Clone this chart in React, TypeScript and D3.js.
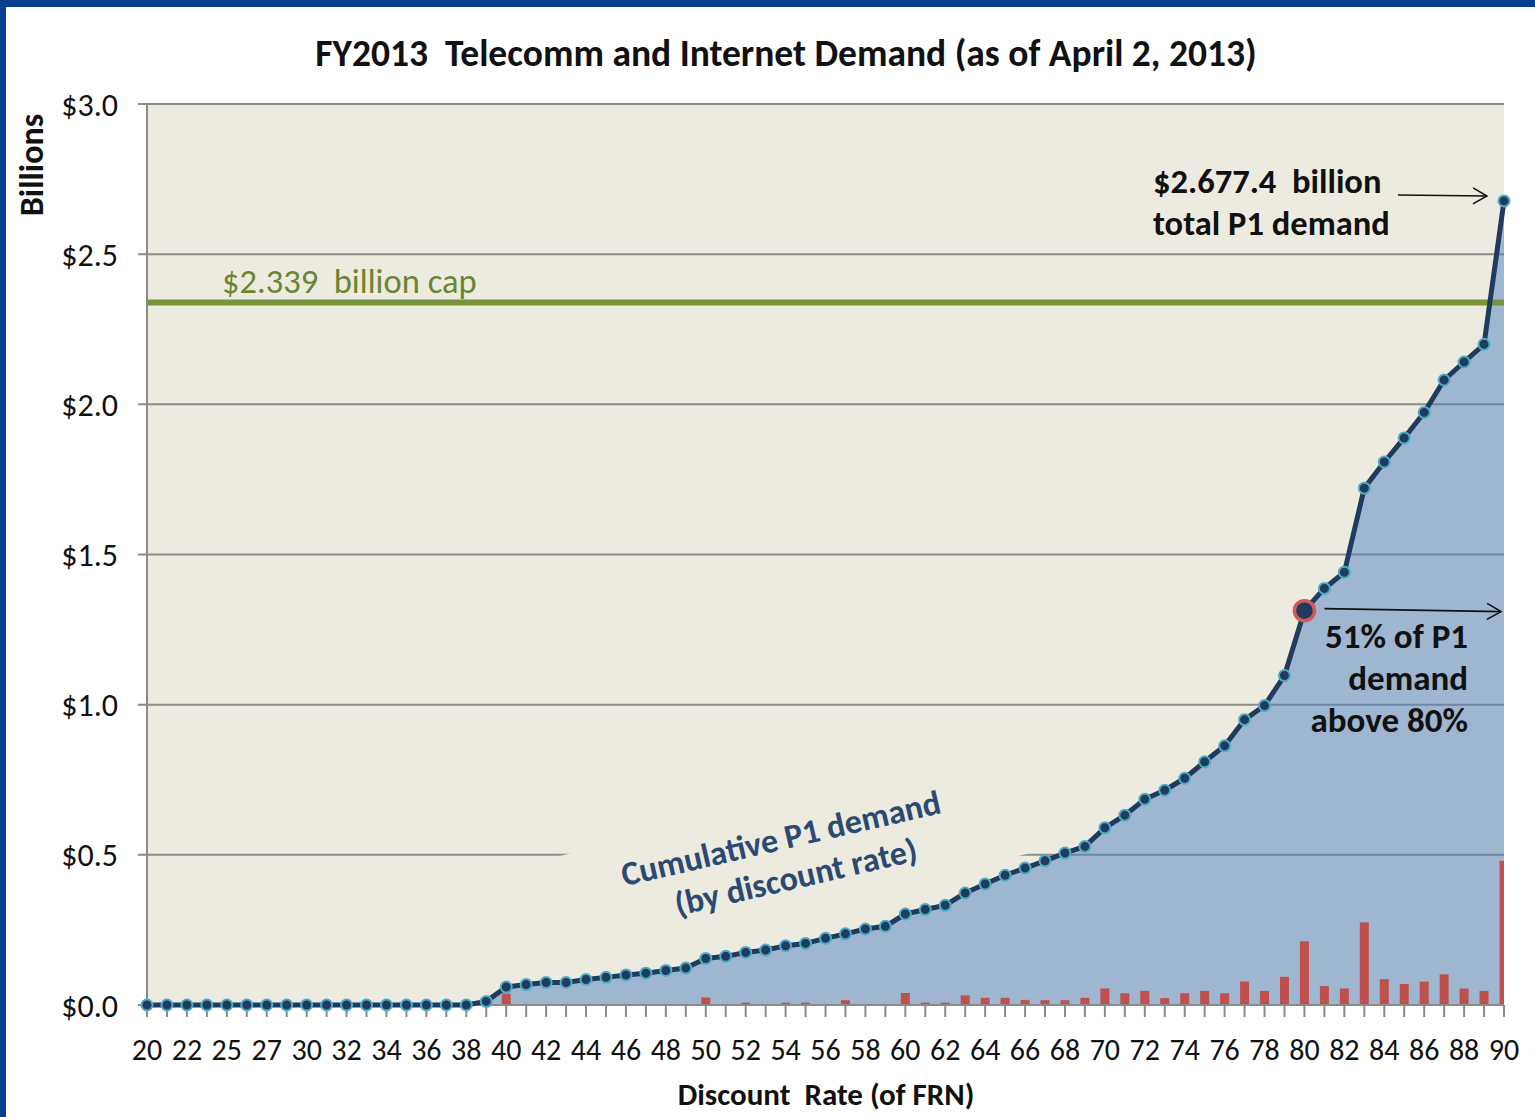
import React from "react";
import * as d3 from "d3";

// ---------- DATA ----------
const categories: number[] = [
  20, 21, 22, 23, 25, 26, 27, 28, 30, 31, 32, 33, 34, 35, 36, 37, 38, 39,
  40, 41, 42, 43, 44, 45, 46, 47, 48, 49, 50, 51, 52, 53, 54, 55, 56, 57, 58, 59,
  60, 61, 62, 63, 64, 65, 66, 67, 68, 69, 70, 71, 72, 73, 74, 75, 76, 77, 78, 79,
  80, 81, 82, 83, 84, 85, 86, 87, 88, 89, 90,
];

// cumulative P1 demand, $ billions
const cumulative: number[] = [
  0, 0, 0, 0, 0, 0, 0, 0, 0, 0, 0, 0, 0, 0, 0, 0, 0, 0.012,
  0.06, 0.068, 0.075, 0.075, 0.085, 0.092, 0.1, 0.106, 0.115, 0.123,
  0.155, 0.162, 0.175, 0.183, 0.197, 0.205, 0.222, 0.237, 0.253, 0.262,
  0.303, 0.318, 0.332, 0.373, 0.403, 0.432, 0.456, 0.48, 0.506, 0.528,
  0.59, 0.632, 0.685, 0.715, 0.755, 0.81, 0.863, 0.95, 0.997, 1.097,
  1.313, 1.387, 1.441, 1.721, 1.808, 1.888, 1.973, 2.081, 2.141, 2.2,
  2.6774,
];

// demand at each discount rate, $ billions
const perRate: number[] = [
  0, 0, 0, 0, 0, 0, 0, 0, 0, 0, 0, 0, 0, 0, 0, 0, 0, 0,
  0.038, 0, 0, 0, 0, 0, 0, 0, 0, 0,
  0.025, 0, 0.008, 0, 0.008, 0.008, 0, 0.016, 0, 0,
  0.04, 0.008, 0.008, 0.032, 0.024, 0.024, 0.017, 0.016, 0.016, 0.024,
  0.055, 0.039, 0.047, 0.023, 0.039, 0.047, 0.039, 0.078, 0.047, 0.094,
  0.212, 0.063, 0.055, 0.275, 0.086, 0.07, 0.078, 0.102, 0.055, 0.047,
  0.48,
];

const yTicks: number[] = [0, 0.5, 1.0, 1.5, 2.0, 2.5, 3.0];
const capValue = 2.339;
const highlightRate = 80;

const title = "FY2013  Telecomm and Internet Demand (as of April 2, 2013)";
const xTitle = "Discount  Rate (of FRN)";
const yTitle = "Billions";
const capLabel = "$2.339  billion cap";
const totalLabel = ["$2.677.4  billion", "total P1 demand"];
const shareLabel = ["51% of P1", "demand", "above 80%"];
const curveLabel = ["Cumulative P1 demand", "(by discount rate)"];

// ---------- LAYOUT ----------
const W = 1535;
const H = 1117;
const L = 147;
const R = 1504;
const T = 104;
const B = 1005;
const FONT = "Carlito, Calibri, Lato, 'Open Sans', sans-serif";

const keepSpaces = (s: string) => s.replace(/  /g, " \u00A0");

export default function App() {
  const x = d3.scalePoint<number>().domain(categories).range([L, R]);
  const y = d3.scaleLinear().domain([0, 3]).range([B, T]);
  const step = x.step();
  const barW = step * 0.45;

  const pts = categories.map((c, i) => ({ c, v: cumulative[i] }));
  const line = d3
    .line<{ c: number; v: number }>()
    .x((d) => x(d.c)!)
    .y((d) => y(d.v));
  const area = d3
    .area<{ c: number; v: number }>()
    .x((d) => x(d.c)!)
    .y0(y(0))
    .y1((d) => y(d.v));

  const hiIdx = categories.indexOf(highlightRate);
  const lastIdx = categories.length - 1;

  return (
    <svg
      width={W}
      height={H}
      style={{ position: "absolute", left: 0, top: 0, background: "#fff" }}
      fontFamily={FONT}
    >
      <defs>
        <clipPath id="plotClip">
          <rect x={L} y={T} width={R - L} height={B - T} />
        </clipPath>
        <marker
          id="arrow"
          viewBox="0 0 16 18"
          refX={15}
          refY={9}
          markerWidth={16}
          markerHeight={18}
          markerUnits="userSpaceOnUse"
          orient="auto"
        >
          <path d="M1,1 L15,9 L1,17" fill="none" stroke="#111" strokeWidth={1.6} />
        </marker>
      </defs>

      {/* frame */}
      <rect x={0} y={0} width={W} height={H} fill="#fff" />
      <rect x={0} y={0} width={W} height={7} fill="#0A3F8F" />
      <rect x={0} y={0} width={6} height={H} fill="#0A3F8F" />

      {/* plot background */}
      <rect x={L} y={T} width={R - L} height={B - T} fill="#EDEBE0" />

      {/* gridlines */}
      {yTicks.map((t) =>
        t === 0 ? null : (
          <line
            key={t}
            x1={L - 9}
            x2={R}
            y1={y(t)}
            y2={y(t)}
            stroke="#8A8A8A"
            strokeWidth={2}
          />
        )
      )}

      {/* text box background for rotated label */}
      <g transform={`translate(791,856) rotate(-13)`}>
        <rect x={-240} y={-52} width={480} height={103} fill="#EDEBE0" />
      </g>

      {/* area */}
      <path d={area(pts)!} fill="#4F81BD" fillOpacity={0.5} />

      {/* per-rate bars */}
      <g clipPath="url(#plotClip)">
        {categories.map((c, i) =>
          perRate[i] > 0 ? (
            <rect
              key={c}
              x={x(c)! - barW / 2}
              y={y(perRate[i])}
              width={barW}
              height={y(0) - y(perRate[i])}
              fill="#C0504D"
            />
          ) : null
        )}
      </g>

      {/* cap line */}
      <line x1={L} x2={R} y1={y(capValue)} y2={y(capValue)} stroke="#77933C" strokeWidth={6} />

      {/* axes */}
      <line x1={L} x2={L} y1={T} y2={B} stroke="#8A8A8A" strokeWidth={2} />
      <line x1={L - 9} x2={R} y1={B} y2={B} stroke="#8A8A8A" strokeWidth={2} />
      {categories.map((c) => (
        <line key={c} x1={x(c)} x2={x(c)} y1={B} y2={B + 12} stroke="#8A8A8A" strokeWidth={2} />
      ))}

      {/* cumulative line */}
      <path d={line(pts)!} fill="none" stroke="#1F3B5E" strokeWidth={5} strokeLinejoin="round" />
      {pts.map((d, i) =>
        i === hiIdx ? null : (
          <circle
            key={d.c}
            cx={x(d.c)}
            cy={y(d.v)}
            r={5.5}
            fill="#1F3B5E"
            stroke="#4BACC6"
            strokeWidth={2}
          />
        )
      )}
      <circle
        cx={x(categories[hiIdx])}
        cy={y(cumulative[hiIdx])}
        r={10}
        fill="#1F3B5E"
        stroke="#D05A57"
        strokeWidth={3.5}
      />

      {/* y tick labels */}
      {yTicks.map((t) => (
        <text
          key={t}
          x={118}
          y={y(t)}
          dy="0.36em"
          textAnchor="end"
          fontSize={32}
          fill="#111"
        >
          {`$${t.toFixed(1)}`}
        </text>
      ))}

      {/* x tick labels */}
      {categories.map((c, i) =>
        i % 2 === 0 ? (
          <text key={c} x={x(c)} y={1060} textAnchor="middle" fontSize={30} fill="#111">
            {c}
          </text>
        ) : null
      )}

      {/* titles */}
      <text x={786} y={66} textAnchor="middle" fontSize={37.5} fontWeight="bold" fill="#111">
        {keepSpaces(title)}
      </text>
      <text x={826} y={1105} textAnchor="middle" fontSize={31} fontWeight="bold" fill="#111">
        {keepSpaces(xTitle)}
      </text>
      <text
        transform={`translate(43,165) rotate(-90)`}
        textAnchor="middle"
        fontSize={34}
        fontWeight="bold"
        fill="#111"
      >
        {yTitle}
      </text>

      {/* annotations */}
      <text x={222} y={y(capValue) - 10} fontSize={34.5} fill="#6B8530">
        {keepSpaces(capLabel)}
      </text>

      <text fontSize={34.5} fontWeight="bold" fill="#111">
        <tspan x={1153} y={193}>{keepSpaces(totalLabel[0])}</tspan>
        <tspan x={1153} y={235}>{totalLabel[1]}</tspan>
      </text>
      <line
        x1={1398}
        x2={x(categories[lastIdx])! - 17}
        y1={195}
        y2={196}
        stroke="#111"
        strokeWidth={1.6}
        markerEnd="url(#arrow)"
      />

      <line
        x1={x(categories[hiIdx])! + 20}
        x2={R - 3}
        y1={y(cumulative[hiIdx]) - 2}
        y2={y(cumulative[hiIdx]) + 1}
        stroke="#111"
        strokeWidth={1.6}
        markerEnd="url(#arrow)"
      />
      <text textAnchor="end" fontSize={35} fontWeight="bold" fill="#111">
        {shareLabel.map((s, i) => (
          <tspan key={s} x={1468} y={648 + i * 42}>
            {s}
          </tspan>
        ))}
      </text>

      <g transform={`translate(791,856) rotate(-13)`}>
        <text textAnchor="middle" fontSize={34} fontWeight="bold" fill="#2B4A72">
          <tspan x={-6} y={-8}>{curveLabel[0]}</tspan>
          <tspan x={0} y={33}>{curveLabel[1]}</tspan>
        </text>
      </g>
    </svg>
  );
}
